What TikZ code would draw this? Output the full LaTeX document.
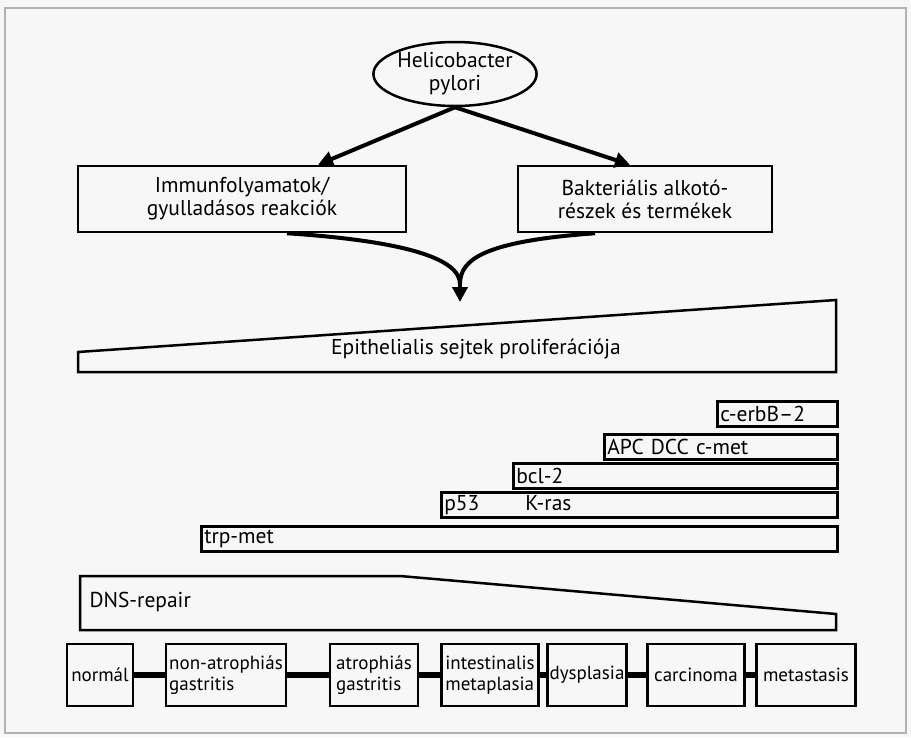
\documentclass[tikz,border=0pt]{standalone}
\usepackage{fontspec}
\setsansfont{PT Sans}
\usetikzlibrary{arrows.meta,positioning,shapes.geometric}

\begin{document}
\begin{tikzpicture}[x=1pt, y=-1pt, >={Triangle[length=15pt, width=15pt]},
  every node/.style={font=\sffamily\fontsize{21.5}{23}\selectfont},
  box/.style={draw, line width=2.5pt, inner sep=2pt, align=center},
  bar/.style={draw, line width=2.5pt, anchor=west, align=left,
    minimum height=25pt, inner xsep=3pt, inner ysep=0pt},
  stage/.style={draw, line width=2.5pt, minimum height=62pt, inner sep=2pt, align=left,
    font=\sffamily\fontsize{19}{21}\selectfont},
  arrowline/.style={line width=4pt},
  link/.style={line width=6pt}]

  % Background and frame
  \fill[gray!6] (0,0) rectangle (911,737);
  \draw[gray!60, line width=1.5pt] (5,8) rectangle (906,733);

  % Nodes
  \node[draw, ellipse, line width=2.5pt, minimum width=150pt, minimum height=64pt,
        align=center, inner sep=0pt] (hp) at (455,74) {Helicobacter\\pylori};
  \node[box, minimum width=328pt, minimum height=66pt] (imm) at (242,199)
        {Immunfolyamatok/\\gyulladásos reakciók};
  \node[box, minimum width=254pt, minimum height=66pt] (bakt) at (645,199)
        {Bakteriális alkotó-\\részek és termékek};

  % Arrows from the ellipse
  \draw[arrowline, ->] (hp.south) -- ([xshift=76pt]imm.north);
  \draw[arrowline, ->] (hp.south) -- ([xshift=-15pt]bakt.north);

  % Merging arrows
  \coordinate (join) at (460,284);
  \coordinate (tip) at (460,302);
  \draw[arrowline] ([xshift=45pt]imm.south) .. controls +(120,8) and +(0,-25) .. (join);
  \draw[arrowline] ([xshift=-50pt]bakt.south) .. controls +(-110,8) and +(0,-25) .. (join);
  \draw[arrowline, ->] (join) -- (tip);

  % Wedge
  \draw[line width=2.5pt] (78,352) -- (836,300) -- (836,372) -- (78,372) -- cycle;
  \node (epi) at (476,349) {Epithelialis sejtek proliferációja};

  % Bars
  \foreach \name/\l/\y/\txt in {cerb/716/414/{c-erbB--2}, apc/603/447/{APC DCC c-met},
      bcl/512/476/{bcl-2}, pras/440/505/{p53\hspace{46pt}K-ras}, trp/200/539/{trp-met}} {
    \pgfmathsetmacro\tw{836-\l-6}
    \node[bar, text width=\tw pt] (\name) at (\l,\y) {\txt};
  }

  % DNS-repair
  \draw[line width=2.5pt] (80,576) -- (400,576) -- (836,614) -- (836,630) -- (80,630) -- cycle;
  \node[anchor=west] (dns) at (86,602) {DNS-repair};

  % Stages
  \foreach \name/\x/\w/\txt in {norm/100/66/{normál}, nonatr/226/120/{non-atrophiás\\gastritis},
      atr/374/88/{atrophiás\\gastritis}, intest/490/97/{intestinalis\\metaplasia},
      dysp/587/74/{dysplasia}, carc/696/97/{carcinoma}, meta/806/99/{metastasis}}
    \node[stage, minimum width=\w pt] (\name) at (\x,675) {\txt};

  \foreach \a/\b in {norm/nonatr, nonatr/atr, atr/intest, intest/dysp, dysp/carc, carc/meta}
    \draw[link] (\a) -- (\b);
\end{tikzpicture}
\end{document}
